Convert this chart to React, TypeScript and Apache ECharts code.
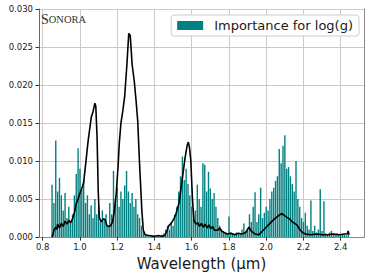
import React, { useEffect, useRef } from "react";
import * as echarts from "echarts";

const xTicks = [0.8, 1.0, 1.2, 1.4, 1.6, 1.8, 2.0, 2.2, 2.4];
const yTicks = [0, 0.005, 0.01, 0.015, 0.02, 0.025, 0.03];

const barWavelength = [
  0.85, 0.86, 0.87, 0.88, 0.89, 0.9, 0.91, 0.92, 0.93, 0.94,
  0.95, 0.96, 0.97, 0.98, 0.99, 1.0, 1.01, 1.02, 1.03, 1.04,
  1.05, 1.06, 1.07, 1.08, 1.09, 1.1, 1.11, 1.12, 1.13, 1.14,
  1.15, 1.16, 1.17, 1.18, 1.19, 1.2, 1.21, 1.22, 1.23, 1.24,
  1.25, 1.26, 1.27, 1.28, 1.29, 1.3, 1.31, 1.32, 1.33, 1.34,
  1.35, 1.36, 1.37, 1.38, 1.39, 1.4, 1.41, 1.42, 1.43, 1.44,
  1.45, 1.46, 1.47, 1.48, 1.49, 1.5, 1.51, 1.52, 1.53, 1.54,
  1.55, 1.56, 1.57, 1.58, 1.59, 1.6, 1.61, 1.62, 1.63, 1.64,
  1.65, 1.66, 1.67, 1.68, 1.69, 1.7, 1.71, 1.72, 1.73, 1.74,
  1.75, 1.76, 1.77, 1.78, 1.79, 1.8, 1.81, 1.82, 1.83, 1.84,
  1.85, 1.86, 1.87, 1.88, 1.89, 1.9, 1.91, 1.92, 1.93, 1.94,
  1.95, 1.96, 1.97, 1.98, 1.99, 2.0, 2.01, 2.02, 2.03, 2.04,
  2.05, 2.06, 2.07, 2.08, 2.09, 2.1, 2.11, 2.12, 2.13, 2.14,
  2.15, 2.16, 2.17, 2.18, 2.19, 2.2, 2.21, 2.22, 2.23, 2.24,
  2.25, 2.26, 2.27, 2.28, 2.29, 2.3, 2.31, 2.32, 2.33, 2.34,
  2.35, 2.36, 2.37, 2.38, 2.39, 2.4, 2.41, 2.42, 2.43, 2.44,
];

const importance = [
  0.0069, 0.0045, 0.0127, 0.006, 0.0078, 0.0055, 0.0035, 0.0058, 0.0025, 0.004,
  0.002, 0.003, 0.0055, 0.0083, 0.0117, 0.009, 0.0062, 0.0075, 0.0045, 0.0055,
  0.003, 0.0042, 0.0025, 0.005, 0.003, 0.004, 0.002, 0.0035, 0.0022, 0.003,
  0.0015, 0.0045, 0.003, 0.0087, 0.005, 0.0065, 0.004, 0.006, 0.005, 0.0068,
  0.0087, 0.006, 0.0045, 0.0058, 0.004, 0.005, 0.003, 0.0025, 0.0015, 0.0008,
  0.0003, 0.0002, 0.0001, 0.0001, 0.0001, 0.0001, 0.0001, 0.0002, 0.0002, 0.0003,
  0.0005, 0.001, 0.0015, 0.001, 0.002, 0.0015, 0.003, 0.004, 0.006, 0.008,
  0.0106, 0.0075, 0.009, 0.007, 0.0055, 0.004, 0.0025, 0.0035, 0.0069, 0.005,
  0.004, 0.0097, 0.0095, 0.006, 0.0086, 0.0064, 0.005, 0.0058, 0.004, 0.0025,
  0.0015, 0.001, 0.0008, 0.0006, 0.0005, 0.0027, 0.0006, 0.0005, 0.0004, 0.0006,
  0.0005, 0.0004, 0.001, 0.0018, 0.0008, 0.0012, 0.003, 0.002, 0.004, 0.0059,
  0.002, 0.003, 0.0065, 0.0025, 0.0032, 0.004, 0.0035, 0.005, 0.006, 0.0065,
  0.0074, 0.008, 0.0116, 0.0097, 0.012, 0.0134, 0.009, 0.0092, 0.008, 0.007,
  0.006, 0.01, 0.005, 0.004, 0.0025, 0.002, 0.0032, 0.0015, 0.001, 0.0048,
  0.0008, 0.0015, 0.0006, 0.001, 0.0063, 0.0008, 0.0047, 0.0005, 0.0004, 0.0006,
  0.0008, 0.0005, 0.0004, 0.0005, 0.0003, 0.0004, 0.0003, 0.0003, 0.0002, 0.0003,
];

const lineWavelength = [
  0.85, 0.855, 0.86, 0.87, 0.875, 0.88, 0.89, 0.9, 0.91, 0.92,
  0.93, 0.94, 0.95, 0.96, 0.97, 0.98, 0.99, 1.0, 1.01, 1.02,
  1.03, 1.044, 1.061, 1.07, 1.08, 1.085, 1.092, 1.098, 1.104, 1.115,
  1.125, 1.135, 1.145, 1.155, 1.165, 1.175, 1.185, 1.195, 1.205, 1.211,
  1.22, 1.23, 1.24, 1.252, 1.262, 1.27, 1.28, 1.292, 1.301, 1.31,
  1.319, 1.332, 1.34, 1.35, 1.37, 1.4, 1.42, 1.44, 1.455, 1.461,
  1.47, 1.477, 1.49, 1.504, 1.515, 1.532, 1.55, 1.564, 1.575, 1.582,
  1.588, 1.595, 1.604, 1.612, 1.622, 1.632, 1.642, 1.652, 1.662, 1.672,
  1.682, 1.692, 1.702, 1.712, 1.722, 1.74, 1.75, 1.76, 1.774, 1.79,
  1.81, 1.83, 1.85, 1.87, 1.89, 1.907, 1.92, 1.94, 1.96, 1.98,
  2.0, 2.02, 2.04, 2.055, 2.07, 2.085, 2.1, 2.112, 2.125, 2.14,
  2.165, 2.18, 2.195, 2.21, 2.24, 2.27, 2.3, 2.33, 2.36, 2.39,
  2.42, 2.435, 2.44, 2.445,
];

const flux = [
  0.0, 0.0004, 0.0009, 0.0013, 0.001, 0.0017, 0.0012, 0.0018, 0.0014, 0.0021,
  0.0017, 0.0022, 0.0019, 0.0024, 0.0032, 0.0044, 0.005, 0.0058, 0.0064, 0.0072,
  0.0095, 0.0127, 0.0158, 0.0165, 0.0176, 0.0172, 0.013, 0.006, 0.0025, 0.002,
  0.0024, 0.0023, 0.0015, 0.0014, 0.0015, 0.002, 0.0035, 0.0058, 0.0095, 0.0123,
  0.015, 0.0166, 0.0185, 0.0227, 0.0268, 0.0265, 0.0227, 0.0204, 0.018, 0.0153,
  0.0101, 0.0036, 0.0009, 0.0003, 0.0002, 0.0001, 0.0002, 0.0001, 0.0002, 0.0005,
  0.001, 0.0015, 0.0018, 0.0024, 0.003, 0.0045, 0.0078, 0.0104, 0.012, 0.0125,
  0.0118, 0.0101, 0.005, 0.0022, 0.0017, 0.0019, 0.0014, 0.0018, 0.0013, 0.0017,
  0.0012, 0.0016, 0.0011, 0.0014, 0.0009, 0.0009, 0.0012, 0.0008, 0.0006, 0.0004,
  0.0005, 0.0003, 0.0005, 0.0004, 0.0006, 0.0013, 0.0008, 0.0004, 0.0003, 0.0008,
  0.0013, 0.0018, 0.0023, 0.0026, 0.0029, 0.0031, 0.0028, 0.0026, 0.0024, 0.002,
  0.0016, 0.001, 0.0006, 0.0004, 0.0003, 0.0004, 0.0003, 0.0003, 0.0004, 0.0003,
  0.0004, 0.0004, 0.0008, 0.0003,
];

const FONT = "DejaVu Sans";

export default function App() {
  const ref = useRef<HTMLDivElement>(null);
  useEffect(() => {
    if (!ref.current) return;
    const chart = echarts.init(ref.current, null, { renderer: "svg" });
    const barData = barWavelength.map((w, i) => [w, importance[i]]);
    const lineData = lineWavelength.map((w, i) => [w, flux[i]]);
    chart.setOption({
      animation: false,
      backgroundColor: "#ffffff",
      title: {
        left: 41,
        top: 12,
        padding: 0,
        text: "{a|S}{b|ONORA}",
        textStyle: {
          fontWeight: "normal",
          rich: {
            a: { fontFamily: "Liberation Serif", fontSize: 14, fontWeight: "normal", color: "#333" },
            b: { fontFamily: "Liberation Serif", fontSize: 10.5, fontWeight: "normal", color: "#333" },
          },
        },
      },
      legend: {
        right: 15,
        top: 15,
        padding: [4, 6, 4, 6],
        backgroundColor: "#ffffff",
        borderColor: "#cccccc",
        borderWidth: 1,
        borderRadius: 3,
        icon: "rect",
        itemWidth: 26,
        itemHeight: 9,
        data: ["Importance for log(g)"],
        textStyle: { fontFamily: FONT, fontSize: 13, color: "#1a1a1a", padding: [0, 0, 0, 6] },
      },
      grid: { left: 39, right: 10, top: 9, bottom: 38, containLabel: false },
      xAxis: [
        {
          type: "value",
          min: 0.78,
          max: 2.525,
          name: "Wavelength (μm)",
          nameLocation: "middle",
          nameGap: 15,
          nameTextStyle: { fontFamily: FONT, fontSize: 15, color: "#1a1a1a" },
          axisLine: { show: true, onZero: false, lineStyle: { color: "#666", width: 1 } },
          axisTick: { show: true, length: 3.5, customValues: xTicks, lineStyle: { color: "#333" } },
          axisLabel: {
            customValues: xTicks,
            margin: 5,
            fontFamily: FONT,
            fontSize: 8.5,
            color: "#1a1a1a",
            formatter: (v: number) => v.toFixed(1),
          },
          splitLine: { show: true, lineStyle: { color: "#cbcbcb", width: 1 } },
        },
        {
          type: "value",
          position: "top",
          min: 0.78,
          max: 2.525,
          axisLine: { show: true, lineStyle: { color: "#888", width: 1 } },
          axisTick: { show: false },
          axisLabel: { show: false },
          splitLine: { show: false },
        },
      ],
      yAxis: [
        {
          type: "value",
          min: yTicks[0],
          max: yTicks[yTicks.length - 1],
          interval: 0.005,
          axisLine: { show: true, lineStyle: { color: "#666", width: 1 } },
          axisTick: { show: true, length: 3.5, lineStyle: { color: "#333" } },
          axisLabel: {
            margin: 6,
            fontFamily: FONT,
            fontSize: 8.5,
            color: "#1a1a1a",
            formatter: (v: number) => v.toFixed(3),
          },
          splitLine: { show: true, lineStyle: { color: "#cbcbcb", width: 1 } },
        },
        {
          type: "value",
          position: "right",
          min: 0,
          max: 0.03,
          interval: 0.005,
          axisLine: { show: true, lineStyle: { color: "#888", width: 1 } },
          axisTick: { show: false },
          axisLabel: { show: false },
          splitLine: { show: false },
        },
      ],
      series: [
        {
          name: "Importance for log(g)",
          type: "bar",
          xAxisIndex: 0,
          yAxisIndex: 0,
          data: barData,
          barWidth: 1.4,
          itemStyle: { color: "#008080" },
          z: 2,
        },
        {
          name: "spectrum",
          type: "line",
          xAxisIndex: 0,
          yAxisIndex: 0,
          data: lineData,
          showSymbol: false,
          symbol: "none",
          lineStyle: { color: "#000000", width: 1.6 },
          z: 3,
        },
      ],
    });
    return () => chart.dispose();
  }, []);
  return <div ref={ref} style={{ width: 374, height: 276, position: "absolute", left: 0, top: 0 }} />;
}
